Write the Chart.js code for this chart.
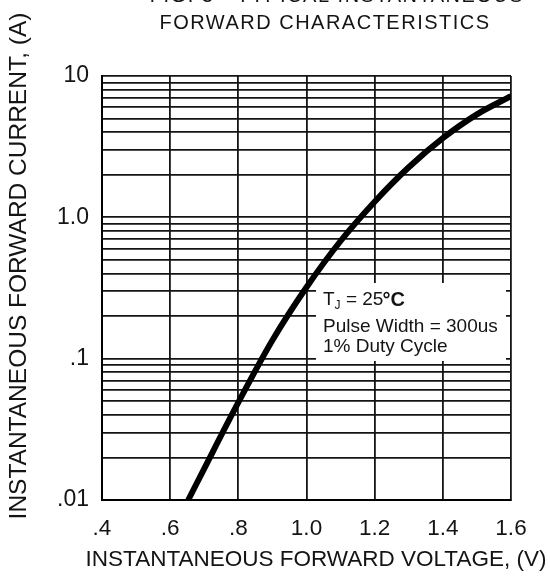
<!DOCTYPE html>
<html>
<head>
<meta charset="utf-8">
<script src="https://cdn.jsdelivr.net/npm/chart.js@4.4.1/dist/chart.umd.min.js"></script>
<style>
  html, body { margin: 0; padding: 0; background: #fff; }
  canvas { display: block; }
</style>
</head>
<body>
<canvas id="fwdChart" width="550" height="576"></canvas>
<script>
// Forward voltage (V) vs instantaneous forward current (A)
const voltage = [0.653, 0.7, 0.8, 0.9, 1.0, 1.1, 1.2, 1.3, 1.4, 1.5, 1.6];
const current = [0.01, 0.0167, 0.049, 0.135, 0.32, 0.68, 1.29, 2.26, 3.63, 5.35, 7.2];

// axis ticks
const xTickValues = [0.4, 0.6, 0.8, 1.0, 1.2, 1.4, 1.6];
const xTickLabels = ['.4', '.6', '.8', '1.0', '1.2', '1.4', '1.6'];
const yDecades = [0.01, 0.1, 1, 10];
const yDecadeLabels = ['.01', '.1', '1.0', '10'];
const yMultipliers = [1, 2, 3, 4, 5, 6, 7, 8, 9];

const titleLines = ['FIG. 3 - TYPICAL INSTANTANEOUS', 'FORWARD CHARACTERISTICS'];
const xTitle = 'INSTANTANEOUS FORWARD VOLTAGE, (V)';
const yTitle = 'INSTANTANEOUS FORWARD CURRENT, (A)';
const noteLines = ['Pulse Width = 300us', '1% Duty Cycle'];

const FONT = "Arial, 'Liberation Sans', Helvetica, sans-serif";
const INK = '#141414';

// gridlines at 1..9 of every decade, plus the top one
let yGrid = [];
for (let d = 0; d < yDecades.length - 1; d++) {
    yMultipliers.forEach(m => yGrid.push(+(yDecades[d] * m).toPrecision(3)));
}
yGrid.push(yDecades[yDecades.length - 1]);

const textPlugin = {
    id: 'texts',
    beforeDatasetsDraw(chart) {
        // white box for the test conditions, drawn over the grid
        const ctx = chart.ctx;
        ctx.save();
        ctx.fillStyle = '#fff';
        ctx.fillRect(316, 283, 190, 78);
        ctx.fillStyle = INK;
        ctx.textBaseline = 'alphabetic';
        ctx.textAlign = 'left';
        ctx.font = '19px ' + FONT;
        let x = 323;
        ctx.fillText('T', x, 305);
        x += ctx.measureText('T').width;
        ctx.font = '12px ' + FONT;
        ctx.fillText('J', x, 309);
        x += ctx.measureText('J').width;
        ctx.font = '19px ' + FONT;
        ctx.fillText(' = 25', x, 305);
        x += ctx.measureText(' = 25').width;
        ctx.font = 'bold 20px ' + FONT;
        ctx.fillText('\u00B0C', x - 1, 306);
        ctx.font = '19px ' + FONT;
        ctx.fillText(noteLines[0], 323, 332);
        ctx.fillText(noteLines[1], 323, 352);
        ctx.restore();
    },
    afterDraw(chart) {
        const ctx = chart.ctx;
        ctx.save();
        ctx.fillStyle = INK;
        ctx.textAlign = 'center';
        ctx.textBaseline = 'alphabetic';
        ctx.font = '20px ' + FONT;
        ctx.letterSpacing = '1.5px';
        ctx.fillText(titleLines[0], 337, 2);
        ctx.fillText(titleLines[1], 325, 29);
        ctx.letterSpacing = '0px';
        ctx.font = '22.5px ' + FONT;
        ctx.fillText(xTitle, 316, 566);
        ctx.translate(19, 266);
        ctx.rotate(-Math.PI / 2);
        ctx.textBaseline = 'middle';
        ctx.font = '24.5px ' + FONT;
        ctx.fillText(yTitle, 0, 0);
        ctx.restore();
    }
};

new Chart(document.getElementById('fwdChart'), {
    type: 'line',
    data: {
        datasets: [{
            data: voltage.map((v, i) => ({ x: v, y: current[i] })),
            borderColor: '#000',
            borderWidth: 6,
            pointRadius: 0,
            cubicInterpolationMode: 'monotone',
            fill: false
        }]
    },
    options: {
        responsive: false,
        animation: false,
        devicePixelRatio: 1,
        layout: { padding: { top: 76, right: 39, bottom: 0, left: 0 } },
        plugins: { legend: { display: false }, tooltip: { enabled: false }, title: { display: false } },
        scales: {
            x: {
                type: 'linear',
                min: 0.4,
                max: 1.6,
                afterFit: s => { s.height = 76; },
                afterBuildTicks: s => { s.ticks = xTickValues.map(v => ({ value: v })); },
                grid: { color: INK, lineWidth: 1.8, drawTicks: false },
                border: { color: '#000', width: 2 },
                ticks: {
                    padding: 15,
                    color: INK,
                    font: { family: FONT, size: 22.5 },
                    maxRotation: 0,
                    autoSkip: false,
                    callback: (v, i) => xTickLabels[i]
                }
            },
            y: {
                type: 'logarithmic',
                min: 0.01,
                max: 10,
                afterFit: s => { s.width = 102; },
                afterBuildTicks: s => { s.ticks = yGrid.map(v => ({ value: v })); },
                grid: { color: INK, lineWidth: 1.8, drawTicks: false },
                border: { color: '#000', width: 2 },
                ticks: {
                    padding: 13,
                    color: INK,
                    font: { family: FONT, size: 23 },
                    autoSkip: false,
                    callback: v => {
                        const k = yDecades.findIndex(d => Math.abs(d - v) < d * 1e-6);
                        return k >= 0 ? yDecadeLabels[k] : '';
                    }
                }
            }
        }
    },
    plugins: [textPlugin]
});
</script>
</body>
</html>
